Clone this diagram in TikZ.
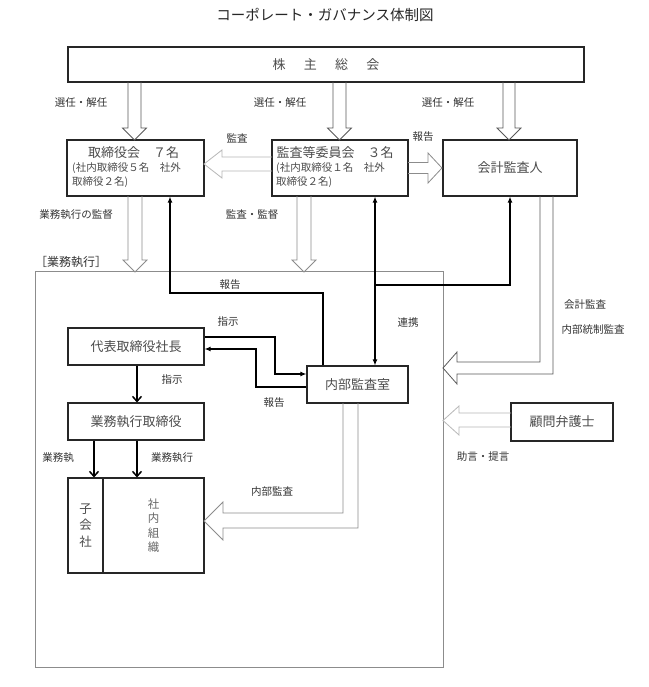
\documentclass[tikz,border=0pt]{standalone}
\usepackage{fontspec}
\setmainfont{Noto Sans CJK JP}
\usetikzlibrary{arrows.meta}
\begin{document}
\begin{tikzpicture}[x=1pt,y=-1pt,
  box/.style={draw=black!85,line width=1.1pt,inner sep=0pt},
  bt/.style={font=\fontsize{13}{15}\selectfont,text=black!70},
  sm/.style={font=\fontsize{10.5}{14}\selectfont,text=black!70,inner sep=0pt},
  lab/.style={font=\fontsize{10.5}{12}\selectfont,text=black!80,inner sep=0pt},
  thk/.style={line width=1.5pt,black},
  tipf/.style={-{Latex[length=6pt,width=5pt]}},
  tipv/.style={-{Straight Barb[length=5pt,width=9pt]}},
  hol/.style={line width=0.8pt,draw=black!65,line join=miter},
  holg/.style={line width=0.8pt,draw=black!45,line join=miter},
  holl/.style={line width=0.8pt,draw=black!28,line join=miter}]
\useasboundingbox (0,0) rectangle (648,687);
\fill[white] (0,0) rectangle (648,687);

% title
\node[font=\fontsize{14.5}{16}\selectfont,text=black!85] (title) at (325,15) {コーポレート・ガバナンス体制図};

% big execution frame
\draw[black!45,line width=0.9pt] (35,271) rectangle (443,667);
\node[font=\fontsize{12}{14}\selectfont,text=black!80,inner sep=0pt] (execlab) at (71,262) {［業務執行］};

% boxes
\node[box,bt,minimum width=516pt,minimum height=35pt] (sh) at (326,64.5) {株\hspace{1.4em}主\hspace{1.4em}総\hspace{1.4em}会};

\node[box,minimum width=137pt,minimum height=56pt] (bd) at (135.5,168) {};
\node[bt,inner sep=0pt] (bdt) at (133.5,153) {取締役会　７名};
\node[sm,anchor=west,align=left] (bdd) at (72,175) {(社内取締役５名　社外\\取締役２名)};

\node[box,minimum width=136pt,minimum height=56pt] (cm) at (340,168) {};
\node[bt,inner sep=0pt] (cmt) at (335,153) {監査等委員会　３名};
\node[sm,anchor=west,align=left] (cmd) at (276,175) {(社内取締役１名　社外\\取締役２名)};

\node[box,bt,minimum width=134pt,minimum height=56pt] (au) at (510,168) {会計監査人};

\node[box,bt,minimum width=136pt,minimum height=37pt] (pr) at (136,346.5) {代表取締役社長};
\node[box,bt,minimum width=101pt,minimum height=37pt] (ia) at (357.5,384.5) {内部監査室};
\node[box,bt,minimum width=136pt,minimum height=37pt] (ex) at (136,421.5) {業務執行取締役};
\node[box,bt,minimum width=102pt,minimum height=38pt] (lw) at (562,422) {顧問弁護士};

\node[box,minimum width=35pt,minimum height=95pt,align=center,font=\fontsize{12.5}{16.5}\selectfont,text=black!70] (sub) at (85.5,525.5) {子\\会\\社};
\node[box,minimum width=101pt,minimum height=95pt,align=center,font=\fontsize{11.5}{14.5}\selectfont,text=black!60] (org) at (153.5,525.5) {社\\内\\組\\織};

% hollow arrows from shareholders
\draw[hol] (128,82) -- (128,128) -- (122.5,128) -- (134.5,140) -- (146.5,128) -- (141,128) -- (141,82);
\draw[hol] (333,82) -- (333,128) -- (327.5,128) -- (339.5,140) -- (351.5,128) -- (346,128) -- (346,82);
\draw[hol] (503,82) -- (503,128) -- (497,128) -- (509,140) -- (521,128) -- (515,128) -- (515,82);

% board / committee down
\draw[holg] (128,196) -- (128,260) -- (123,260) -- (135,272) -- (147,260) -- (142,260) -- (142,196);
\draw[holg] (297,196) -- (297,260) -- (292,260) -- (304,272) -- (316,260) -- (311,260) -- (311,196);

% committee -> board (audit)
\draw[holl] (272,157) -- (222,157) -- (222,150) -- (204,164) -- (222,178) -- (222,171) -- (272,171);
% committee -> auditor (report)
\draw[holg] (408,162.5) -- (428,162.5) -- (428,153) -- (442,168) -- (428,183) -- (428,173.5) -- (408,173.5);

% auditor -> frame
\draw[hol] (540,196) -- (540,362) -- (457,362) -- (457,352) -- (443,368) -- (457,384) -- (457,374) -- (553,374) -- (553,196);
% lawyer -> frame
\draw[holl] (511,413) -- (459,413) -- (459,406) -- (443,420.5) -- (459,435) -- (459,427) -- (511,427);
% internal audit -> organisation
\draw[holg] (343,403) -- (343,513) -- (223,513) -- (223,502) -- (204,521) -- (223,540) -- (223,528) -- (358,528) -- (358,403);

% black connectors
\coordinate (r1) at (323,293);
\coordinate (r2) at (170,293);
\draw[thk,tipf] (ia.north -| r1) -- (r1) -- (r2) -- (bd.south -| r2);

\coordinate (k1) at (375,285);
\coordinate (k2) at (510,285);
\draw[thk,{Latex[length=6pt,width=5pt]}-{Latex[length=6pt,width=5pt]}] (cm.south -| k1) -- (ia.north -| k1);
\draw[thk,tipf] (k1) -- (k2) -- (au.south -| k2);

\coordinate (s1) at (275,337);
\coordinate (s2) at (275,374);
\draw[thk,tipf] (pr.east |- s1) -- (s1) -- (s2) -- (ia.west |- s2);

\coordinate (p1) at (256,387);
\coordinate (p2) at (256,349);
\draw[thk,tipf] (ia.west |- p1) -- (p1) -- (p2) -- (pr.east |- p2);

\coordinate (v1) at (137,0);
\coordinate (v2) at (94,0);
\draw[thk,tipv] (pr.south -| v1) -- (ex.north -| v1);
\draw[thk,tipv] (ex.south -| v2) -- (sub.north -| v2);
\draw[thk,tipv] (ex.south -| v1) -- (org.north -| v1);

% labels
\node[lab] (l1) at (81,103) {選任・解任};
\node[lab] (l2) at (280,103) {選任・解任};
\node[lab] (l3) at (448,103) {選任・解任};
\node[lab] (l4) at (237,138) {監査};
\node[lab] (l5) at (423,137) {報告};
\node[lab] (l6) at (76,215) {業務執行の監督};
\node[lab] (l7) at (252,215) {監査・監督};
\node[lab] (l8) at (230,285) {報告};
\node[lab] (l9) at (408,323) {連携};
\node[lab] (l10) at (228,322) {指示};
\node[lab] (l11) at (274,403) {報告};
\node[lab] (l12) at (172,380) {指示};
\node[lab] (l13) at (58,458) {業務執};
\node[lab] (l14) at (172,458) {業務執行};
\node[lab] (l15) at (272,492) {内部監査};
\node[lab] (l16) at (585,305) {会計監査};
\node[lab] (l17) at (593,330) {内部統制監査};
\node[lab] (l18) at (483,457) {助言・提言};
\end{tikzpicture}
\end{document}
